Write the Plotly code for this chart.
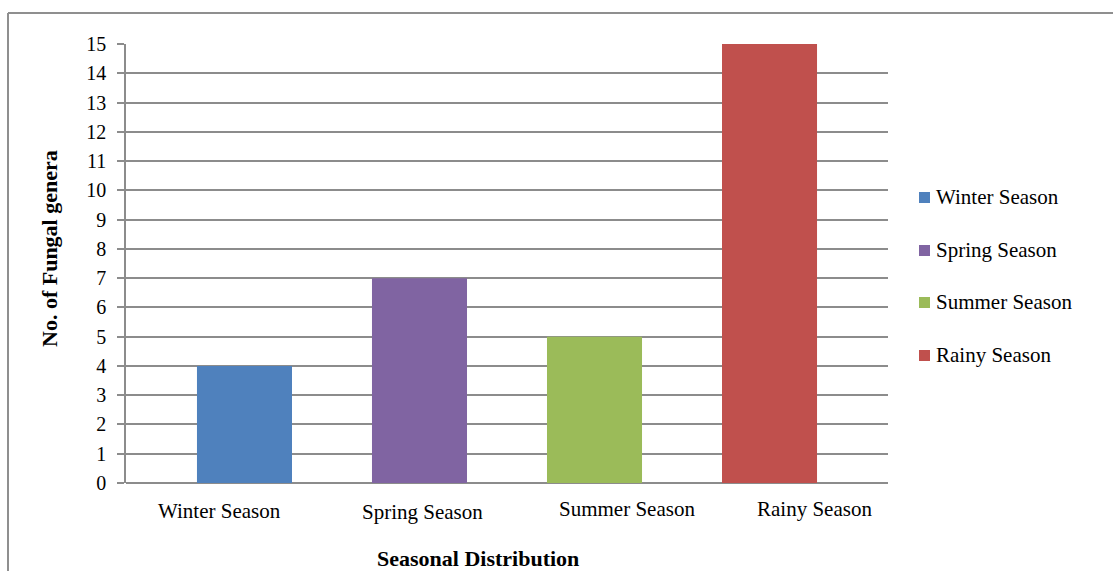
import plotly.graph_objects as go

# Data
seasons = ["Winter Season", "Spring Season", "Summer Season", "Rainy Season"]
genera_counts = [4, 7, 5, 15]
colors = ["#4F81BD", "#8064A2", "#9BBB59", "#C0504D"]
y_ticks = list(range(0, 16))

W, H = 1113, 571
L, R, T, B = 126, 888, 44, 483  # plot area in pixels
FONT = "Liberation Serif, Times New Roman, serif"
GRID = "#8c8c8c"


def px(x):
    return (x - L) / (R - L)


def py(y):
    return (B - y) / (B - T)


fig = go.Figure()
for name, val, col in zip(seasons, genera_counts, colors):
    fig.add_trace(go.Bar(x=[name], y=[val], name=name, marker_color=col,
                         marker_line_width=0, width=0.543, showlegend=False))

# Category labels under the axis
label_shift = [(-25, -28), (3, -29), (32, -26), (45, -26)]
annotations = []
for name, (dx, dy) in zip(seasons, label_shift):
    annotations.append(dict(x=name, xref="x", y=0, yref="paper", xshift=dx, yshift=dy,
                            text=name, showarrow=False, xanchor="center", yanchor="middle",
                            font=dict(family=FONT, size=21, color="#000")))

# Axis titles
annotations.append(dict(x=px(49), y=py(249), xref="paper", yref="paper",
                        text="<b>No. of Fungal genera</b>", textangle=-90, showarrow=False,
                        xanchor="center", yanchor="middle",
                        font=dict(family=FONT, size=22, color="#000")))
annotations.append(dict(x=px(478), y=py(558), xref="paper", yref="paper",
                        text="<b>Seasonal Distribution</b>", showarrow=False,
                        xanchor="center", yanchor="middle",
                        font=dict(family=FONT, size=22, color="#000")))

# Legend
shapes = []
legend_y = [197.5, 250.5, 302.5, 355.5]
for name, col, ly in zip(seasons, colors, legend_y):
    shapes.append(dict(type="rect", xref="paper", yref="paper",
                       x0=px(919), x1=px(930), y0=py(ly - 5.5), y1=py(ly + 5.5),
                       fillcolor=col, line_width=0))
    annotations.append(dict(x=px(934), y=py(ly - 1), xref="paper", yref="paper", text=name,
                            showarrow=False, xanchor="left", yanchor="middle",
                            font=dict(family=FONT, size=21, color="#000")))

# Chart-area border (top and left edges)
shapes.append(dict(type="line", xref="paper", yref="paper", x0=px(8), x1=px(1113),
                   y0=py(13), y1=py(13), line=dict(color="#8f8f8f", width=2)))
shapes.append(dict(type="line", xref="paper", yref="paper", x0=px(8), x1=px(8),
                   y0=py(13), y1=py(571), line=dict(color="#8f8f8f", width=2)))

fig.update_layout(
    width=W, height=H,
    margin=dict(l=L, r=W - R, t=T, b=H - B, pad=0),
    paper_bgcolor="white", plot_bgcolor="white",
    barmode="overlay",
    showlegend=False,
    annotations=annotations,
    shapes=shapes,
    xaxis=dict(type="category", categoryorder="array", categoryarray=seasons,
               range=[-0.677, 3.677], showticklabels=False, showgrid=False,
               zeroline=False, showline=False, ticks=""),
    yaxis=dict(range=[0, 15], tickvals=y_ticks, ticks="outside", ticklen=7,
               tickcolor=GRID, tickwidth=1.5, showgrid=True, gridcolor=GRID, gridwidth=1.5,
               zeroline=True, zerolinecolor=GRID, zerolinewidth=1.5,
               showline=True, linecolor=GRID, linewidth=1.5, ticklabelstandoff=7,
               tickfont=dict(family=FONT, size=20, color="#000")),
)

fig.write_html("out.html")
